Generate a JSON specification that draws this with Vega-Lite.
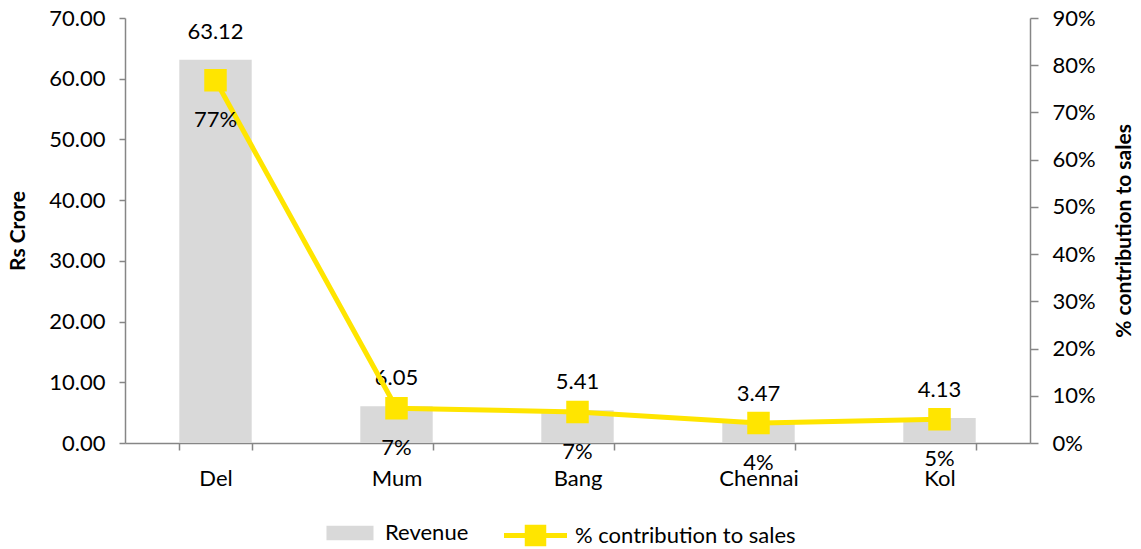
{
  "$schema": "https://vega.github.io/schema/vega-lite/v6.json",
  "autosize": "none",
  "width": 905,
  "height": 425,
  "padding": {"left": 125, "top": 18, "right": 111, "bottom": 106},
  "background": "white",
  "config": {
    "font": "Lato",
    "view": {"stroke": null},
    "axis": {
      "grid": false,
      "domainColor": "#868686",
      "domainWidth": 1.5,
      "tickColor": "#868686",
      "tickWidth": 1.5,
      "labelColor": "#000000",
      "labelFont": "Lato",
      "labelFontSize": 22,
      "titleFont": "Lato",
      "titleFontSize": 21,
      "titleFontWeight": "bold",
      "titleColor": "#000000"
    },
    "legend": {
      "labelFont": "Lato",
      "labelFontSize": 22,
      "labelColor": "#000000",
      "labelLimit": 0,
      "padding": 0
    }
  },
  "data": {
    "values": [
      {"city": "Del", "revenue": 63.12, "share": 0.768},
      {"city": "Mum", "revenue": 6.05, "share": 0.0736},
      {"city": "Bang", "revenue": 5.41, "share": 0.0658},
      {"city": "Chennai", "revenue": 3.47, "share": 0.0422},
      {"city": "Kol", "revenue": 4.13, "share": 0.0503}
    ]
  },
  "encoding": {
    "x": {
      "field": "city",
      "type": "nominal",
      "sort": null,
      "scale": {"paddingInner": 0.6, "paddingOuter": 0.3},
      "axis": {
        "title": null,
        "labelAngle": 0,
        "tickBand": "extent",
        "tickSize": 7,
        "labelPadding": 18
      }
    }
  },
  "layer": [
    {
      "encoding": {
        "y": {
          "field": "revenue",
          "type": "quantitative",
          "scale": {"domain": [0, 70]},
          "axis": {
            "title": "Rs Crore",
            "values": [0, 10, 20, 30, 40, 50, 60, 70],
            "format": ".2f",
            "tickSize": 6,
            "labelPadding": 14,
            "titlePadding": 20
          }
        }
      },
      "layer": [
        {
          "mark": {"type": "bar", "color": "#d9d9d9"},
          "encoding": {
            "fill": {
              "datum": "Revenue",
              "scale": {"range": ["#d9d9d9"]},
              "legend": {
                "title": null,
                "orient": "none",
                "legendX": 210,
                "legendY": 500,
                "symbolType": "M-1.6,-0.5H1.6V0.5H-1.6Z",
                "symbolSize": 864,
                "symbolStrokeWidth": 0,
                "labelOffset": 20
              }
            }
          }
        },
        {
          "mark": {"type": "text", "dy": -28, "fontSize": 22, "font": "Lato", "color": "#000000"},
          "encoding": {
            "text": {"field": "revenue", "type": "quantitative", "format": ".2f"}
          }
        }
      ]
    },
    {
      "encoding": {
        "y": {
          "field": "share",
          "type": "quantitative",
          "scale": {"domain": [0, 0.9]},
          "axis": {
            "orient": "right",
            "title": "% contribution to sales",
            "titleAngle": 270,
            "values": [0, 0.1, 0.2, 0.3, 0.4, 0.5, 0.6, 0.7, 0.8, 0.9],
            "format": ".0%",
            "tickSize": 8,
            "labelPadding": 14,
            "titlePadding": 39
          }
        }
      },
      "layer": [
        {
          "mark": {
            "type": "line",
            "strokeWidth": 5,
            "point": {"shape": "square", "size": 420, "filled": true, "color": "#ffe500"}
          },
          "encoding": {
            "stroke": {
              "datum": "% contribution to sales",
              "scale": {"range": ["#ffe500"]},
              "legend": {
                "title": null,
                "orient": "none",
                "legendX": 393,
                "legendY": 500,
                "symbolType": "M-2.1,0H2.1M-0.55,-0.55H0.55V0.55H-0.55Z",
                "symbolSize": 900,
                "symbolStrokeWidth": 5,
                "symbolFillColor": "#ffe500",
                "labelOffset": 22
              }
            }
          }
        },
        {
          "mark": {"type": "text", "dy": 40, "fontSize": 22, "font": "Lato", "color": "#000000"},
          "encoding": {
            "text": {"field": "share", "type": "quantitative", "format": ".0%"}
          }
        }
      ]
    }
  ],
  "resolve": {"scale": {"y": "independent", "fill": "independent", "stroke": "independent"}}
}
